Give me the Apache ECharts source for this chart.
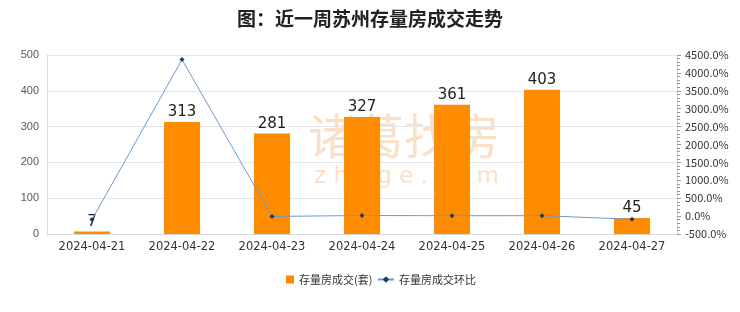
<!DOCTYPE html>
<html>
<head>
<meta charset="utf-8">
<script src="https://cdn.jsdelivr.net/npm/echarts@6/dist/echarts.min.js"></script>
<style>
  html, body { margin: 0; padding: 0; background: #fff; }
  #main { width: 740px; height: 312px; }
</style>
</head>
<body>
<div id="main"></div>
<script>
  // 数据
  const dates = ['2024-04-21', '2024-04-22', '2024-04-23', '2024-04-24', '2024-04-25', '2024-04-26', '2024-04-27'];
  const deals = [7, 313, 281, 327, 361, 403, 45];
  const ratio = [-96.8, 4371.4, -10.2, 16.4, 10.4, 11.6, -88.8];

  let myChart = echarts.init(document.getElementById('main'));
  myChart.setOption({
    animation: false,
    title: {
      text: '图：近一周苏州存量房成交走势',
      left: 'center',
      top: 4,
      textStyle: { fontSize: 19, fontWeight: 'bold', color: '#222', fontFamily: 'Noto Sans CJK SC' }
    },
    // 水印
    graphic: [
      {
        type: 'text', left: 308, top: 112, z: -1,
        style: { text: '诸葛找房', fontSize: 48, fill: '#fbe0c8', fontFamily: 'Noto Sans CJK SC' }
      },
      {
        type: 'text', left: 314, top: 166, z: -1,
        style: { text: 'z h u g e . c o m', fontSize: 23, fill: '#fbe0c8', fontFamily: 'DejaVu Sans' }
      }
    ],
    legend: [
      {
        left: 281, bottom: 22,
        itemWidth: 8, itemHeight: 8,
        textStyle: { fontSize: 11, color: '#333', fontFamily: 'Noto Sans CJK SC' },
        data: [{ name: '存量房成交(套)', icon: 'rect' }]
      },
      {
        left: 372, bottom: 22,
        itemWidth: 16, itemHeight: 8,
        textStyle: { fontSize: 11, color: '#333', fontFamily: 'Noto Sans CJK SC' },
        data: ['存量房成交环比']
      }
    ],
    grid: { left: 47, right: 63, top: 55, bottom: 78 },
    xAxis: {
      type: 'category',
      data: dates,
      axisTick: { show: false },
      axisLine: { lineStyle: { color: '#d9d9d9' } },
      axisLabel: { interval: 0, color: '#333', fontSize: 11.5, margin: 7, fontFamily: 'DejaVu Sans' }
    },
    yAxis: [
      {
        type: 'value', min: 0, max: 500, interval: 100,
        axisLine: { show: true, lineStyle: { color: '#d9d9d9' } },
        axisTick: { show: false },
        splitLine: { lineStyle: { color: '#e6e6e6' } },
        axisLabel: { color: '#595959', fontSize: 11, margin: 8 }
      },
      {
        type: 'value', min: -500, max: 4500, interval: 500,
        position: 'right',
        axisLine: { show: true, lineStyle: { color: '#d9d9d9' } },
        axisTick: { show: true, length: 4, lineStyle: { color: '#999' } },
        minorTick: { show: true, splitNumber: 5, length: 3, lineStyle: { color: '#999' } },
        splitLine: { show: false },
        axisLabel: {
          color: '#333', fontSize: 11, margin: 8, fontFamily: 'Noto Sans CJK SC',
          formatter: v => v.toFixed(1) + '%'
        }
      }
    ],
    series: [
      {
        name: '存量房成交(套)',
        type: 'bar',
        data: deals,
        barWidth: 36,
        itemStyle: { color: '#ff8c00' },
        label: { show: true, position: 'top', color: '#222', fontSize: 15, distance: 2, fontFamily: 'DejaVu Sans' }
      },
      {
        name: '存量房成交环比',
        type: 'line',
        yAxisIndex: 1,
        data: ratio,
        symbol: 'diamond',
        symbolSize: 5,
        lineStyle: { color: '#6a9bd0', width: 1 },
        itemStyle: { color: '#1f3c5c' }
      }
    ]
  });
</script>
</body>
</html>
